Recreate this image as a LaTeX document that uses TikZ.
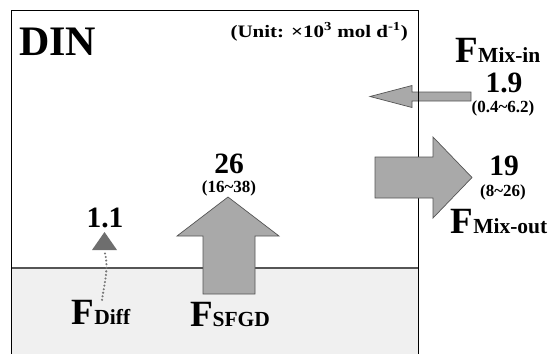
\documentclass[tikz,border=0pt]{standalone}
\usepackage{fontspec}
\setmainfont{Liberation Serif}
\newfontfamily\unitfont{Liberation Serif}[FakeStretch=1.2]
\definecolor{arrowgray}{HTML}{A9A9A9}
\definecolor{edgegray}{HTML}{555555}
\definecolor{sedgray}{HTML}{F0F0F0}
\definecolor{tipgray}{HTML}{6E6E6E}
\definecolor{dotgray}{HTML}{767676}
\newcommand{\fluxlabel}[1]{\fontsize{37}{37}\selectfont F\fontsize{21.5}{21.5}\selectfont #1}

\begin{document}
\begin{tikzpicture}[x=1pt, y=-1pt, every node/.style={font=\bfseries, inner sep=0pt},
	flowarrow/.style={fill=arrowgray, draw=edgegray, line width=0.7pt},
	valuetext/.style={anchor=base, font=\bfseries\fontsize{29.5}{29.5}\selectfont},
	rangetext/.style={anchor=base, font=\bfseries\fontsize{17}{17}\selectfont},
	fluxtext/.style={anchor=base, font=\bfseries}]
	\useasboundingbox (0,0) rectangle (550,354);
	% sediment layer
	\fill[sedgray] (11.5,268) rectangle (418.5,354);
	\draw[edgegray, line width=1.1pt] (11.5,268) -- (418.5,268);
	% mixing in
	\draw[flowarrow] (471,92) -- (412,92) -- (412,85.5) -- (370,96.5) -- (412,107.5) -- (412,101) -- (471,101) -- cycle;
	% water column box
	\draw[line width=0.9pt] (11.5,354) -- (11.5,10.5) -- (418.5,10.5) -- (418.5,354);
	% SFGD
	\draw[flowarrow] (203,294) -- (203,236) -- (177,236) -- (228,197) -- (279,236) -- (255,236) -- (255,294) -- cycle;
	% mixing out
	\draw[flowarrow] (375,157) -- (433,157) -- (433,137) -- (472,177.5) -- (433,218) -- (433,198) -- (375,198) -- cycle;
	% diffusion
	\fill[tipgray] (92,250) -- (117,250) -- (104.5,232) -- cycle;
	\coordinate (difftop) at (105,253.5);
	\coordinate (difffoot) at (102,300);
	\draw[dotgray, line width=2.3pt, line cap=round, dash pattern=on 0pt off 3.6pt]
		(difftop) .. controls (109,268) and (104,285) .. (difffoot);
	% labels
	\node[anchor=base west, font=\bfseries\fontsize{42}{42}\selectfont] (din) at (19,55) {DIN};
	\node[anchor=base east, font=\unitfont\bfseries\fontsize{17.5}{17.5}\selectfont] (unit) at (408,37)
		{(Unit: ×10\textsuperscript{3} mol d\textsuperscript{-1})};
	\node[fluxtext] (mixin) at (498,62) {\fluxlabel{Mix-in}};
	\node[valuetext] (mixinval) at (504,92.5) {1.9};
	\node[rangetext] (mixinrange) at (503,112) {(0.4\textasciitilde6.2)};
	\node[valuetext] (mixoutval) at (504,175.5) {19};
	\node[rangetext] (mixoutrange) at (503,196) {(8\textasciitilde26)};
	\node[fluxtext] (mixout) at (499,233) {\fluxlabel{Mix-out}};
	\node[valuetext] (sfgdval) at (229,173) {26};
	\node[rangetext] (sfgdrange) at (229,192) {(16\textasciitilde38)};
	\node[fluxtext] (sfgd) at (230,326) {\fluxlabel{SFGD}};
	\node[valuetext] (diffval) at (105,227) {1.1};
	\node[fluxtext] (diff) at (101,324.5) {\fluxlabel{Diff}};
\end{tikzpicture}
\end{document}
